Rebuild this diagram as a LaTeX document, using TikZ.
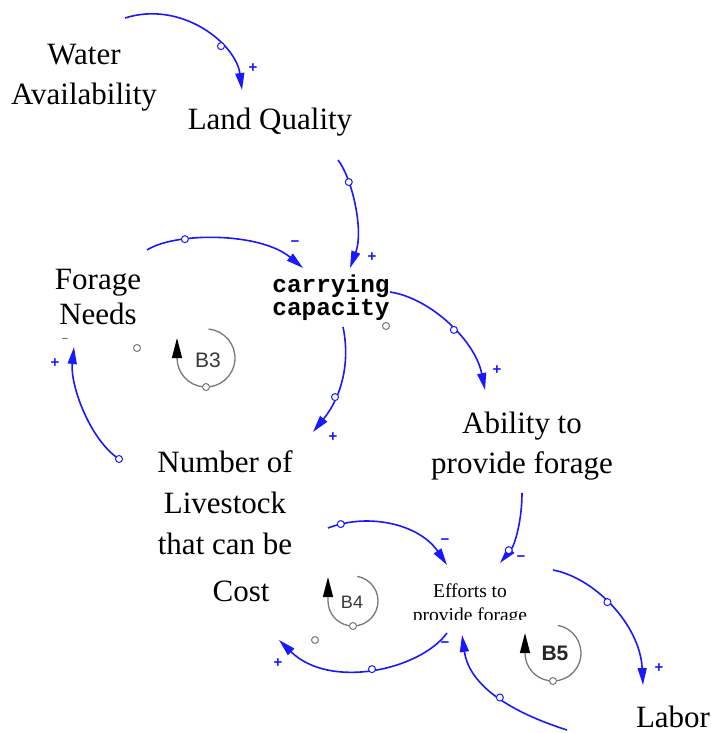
\documentclass[tikz,border=0pt]{standalone}
\usepackage{fontspec}
\setmainfont{Liberation Serif}
\newfontfamily\cmono{Liberation Mono}
\newfontfamily\csans{Liberation Sans}
\usetikzlibrary{arrows.meta}
\definecolor{linkblue}{RGB}{25,25,255}
\definecolor{loopgray}{RGB}{120,120,120}
\definecolor{labgray}{RGB}{55,55,60}
\begin{document}
\begin{tikzpicture}[x=1pt,y=-1pt,
  var/.style={font=\fontsize{31}{40}\selectfont, align=center, anchor=base, inner sep=0pt},
  link/.style={draw=linkblue, line width=1.6pt, -{Triangle[length=17pt,width=9pt]}},
  midc/.style={circle, draw=linkblue, fill=white, line width=1pt, minimum size=7pt, inner sep=0pt},
  handle/.style={circle, draw=loopgray, fill=white, line width=1pt, minimum size=7pt, inner sep=0pt},
  sign/.style={text=linkblue, font=\csans\bfseries\fontsize{15}{15}\selectfont, inner sep=0pt},
  loopline/.style={draw=loopgray, line width=1.3pt, -{Triangle[length=20pt,width=10pt,color=black]}},
  looplab/.style={text=labgray, font=\csans\fontsize{20}{20}\selectfont, inner sep=0pt}
]
\path[use as bounding box] (0,0) rectangle (711,733);

% variables (anchor = baseline of the last line)
\node[var] (water) at (84,105) {Water\\Availability};
\node[var] (land) at (270,130) {Land Quality};
\node[var, font=\cmono\bfseries\fontsize{24.4}{23}\selectfont] (cc) at (331,315) {carrying\\capacity};
\node[var, font=\fontsize{31}{35}\selectfont] (forage) at (98,324) {Forage\\Needs};
\node[var] (ability) at (522,473) {Ability to\\provide forage};
\node[var, font=\fontsize{31}{41}\selectfont] (number) at (225,554) {Number of\\Livestock\\that can be};
\node[var] (cost) at (241,601) {Cost};
\begin{scope}
  \clip (390,570) rectangle (560,619.5);
  \node[var, font=\fontsize{19.5}{24}\selectfont] (efforts) at (470,621) {Efforts to\\provide forage};
\end{scope}
\node[var] (labor) at (673,727) {Labor};

% connector end points
\coordinate (a1s) at (125,18);   \coordinate (a1e) at (242,90);
\coordinate (a2s) at (338,160);  \coordinate (a2e) at (350,268);
\coordinate (a3s) at (147,250);  \coordinate (a3e) at (303,268);
\coordinate (a4s) at (390,292);  \coordinate (a4e) at (485,390);
\coordinate (a5s) at (343,327);  \coordinate (a5e) at (313,432);
\coordinate (a6s) at (119,459);  \coordinate (a6e) at (74,347);
\coordinate (a7s) at (522,493);  \coordinate (a7e) at (500,563);
\coordinate (a8s) at (328,528);  \coordinate (a8e) at (447,565);
\coordinate (a9s) at (553,570);  \coordinate (a9e) at (643,685);
\coordinate (a10s) at (447,633); \coordinate (a10e) at (279,640);
\coordinate (a11s) at (567,730); \coordinate (a11e) at (462,635);

% links
\draw[link] (a1s) .. controls (182,0) and (236,44) .. (a1e) node[midc,pos=0.66]{};
\draw[link] (a2s) .. controls (352,178) and (364,230) .. (a2e) node[midc,pos=0.28]{};
\draw[link] (a3s) .. controls (175,232) and (260,232) .. (a3e) node[midc,pos=0.3]{};
\draw[link] (a4s) .. controls (430,298) and (475,340) .. (a4e) node[midc,pos=0.55]{};
\draw[link] (a5s) .. controls (350,360) and (343,395) .. (a5e) node[midc,pos=0.68]{};
\draw[link] (a6s) .. controls (90,440) and (70,385) .. (a6e) node[midc,pos=0]{};
\draw[link] (a7s) .. controls (522,520) and (515,545) .. (a7e) node[midc,pos=0.78]{};
\draw[link] (a8s) .. controls (370,512) and (420,525) .. (a8e) node[midc,pos=0.1]{};
\draw[link] (a9s) .. controls (595,578) and (640,625) .. (a9e) node[midc,pos=0.45]{};
\draw[link] (a10s) .. controls (420,670) and (330,690) .. (a10e) node[midc,pos=0.5]{};
\draw[link] (a11s) .. controls (520,715) and (470,690) .. (a11e) node[midc,pos=0.5]{};

% polarity signs
\node[sign] (p1) at (253,68) {+};
\node[sign] (p2) at (372,257) {+};
\node[sign] (p3) at (295,244) {−};
\node[sign] (p4) at (497,370) {+};
\node[sign] (p5) at (333,437) {+};
\node[sign] (p6) at (55,363) {+};
\node[sign, text=labgray, font=\csans\fontsize{11}{11}\selectfont] (p6b) at (65,340) {−};
\node[sign] (p7) at (521,559) {−};
\node[sign] (p8) at (445,542) {−};
\node[sign] (p9) at (659,668) {+};
\node[sign] (p10) at (278,663) {+};
\node[sign] (p11) at (445,645) {−};

% handles
\node[handle] (h1) at (386,326) {};
\node[handle] (h2) at (137,348) {};
\node[handle] (h3) at (315,640) {};

% loop B3
\draw[loopline] (206,358) ++(-85:29) arc[start angle=-85, end angle=180, radius=29] -- ++(0,-20);
\node[handle] (b3c) at (206,387) {};
\node[looplab, font=\csans\fontsize{21}{21}\selectfont] (b3) at (208,360) {B3};
% loop B4
\draw[loopline] (353,601) ++(-80:25) arc[start angle=-80, end angle=180, radius=25] -- ++(0,-24);
\node[handle] (b4c) at (353,626) {};
\node[looplab, font=\csans\fontsize{18}{18}\selectfont] (b4) at (352,602) {B4};
% loop B5
\draw[loopline] (553,653) ++(-80:28) arc[start angle=-80, end angle=180, radius=28] -- ++(0,-20);
\node[handle] (b5c) at (553,681) {};
\node[looplab, font=\csans\bfseries\fontsize{21}{21}\selectfont, text=black!85] (b5) at (555,653) {B5};
\end{tikzpicture}
\end{document}
